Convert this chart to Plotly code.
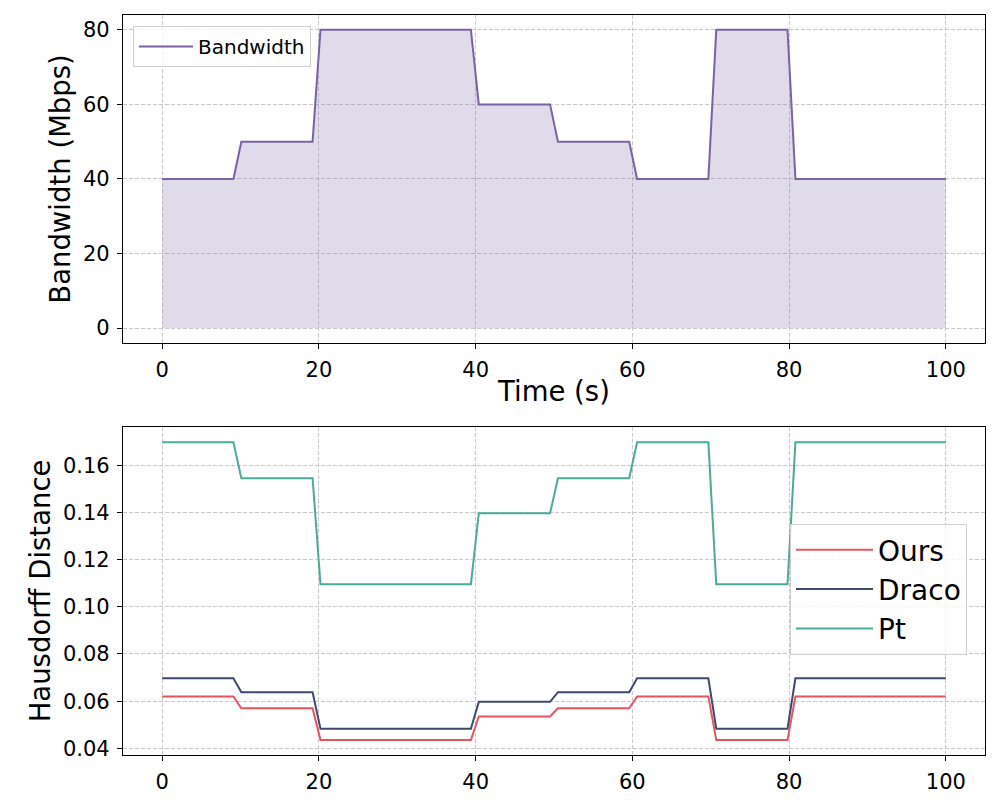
import numpy as np
import plotly.graph_objects as go
from plotly.subplots import make_subplots

# sample times (100 samples over 0-100 s)
time_s = np.linspace(0, 100, 100)

# bandwidth trace (Mbps)
bandwidth = [40] * 10 + [50] * 10 + [80] * 20 + [60] * 10 + [50] * 10 + [40] * 10 + [80] * 10 + [40] * 20

# hausdorff distance per method
ours = [0.062] * 10 + [0.057] * 10 + [0.0435] * 20 + [0.0535] * 10 + [0.057] * 10 + [0.062] * 10 + [0.0435] * 10 + [0.062] * 20
draco = [0.0697] * 10 + [0.0638] * 10 + [0.0483] * 20 + [0.0597] * 10 + [0.0638] * 10 + [0.0697] * 10 + [0.0483] * 10 + [0.0697] * 20
pt = [0.1697] * 10 + [0.1545] * 10 + [0.1095] * 20 + [0.1396] * 10 + [0.1545] * 10 + [0.1697] * 10 + [0.1095] * 10 + [0.1697] * 20

FONT = "DejaVu Sans"

fig = make_subplots(rows=2, cols=1)

# shaded area under the bandwidth curve (no legend entry)
fig.add_trace(go.Scatter(
    x=time_s, y=bandwidth, mode="lines", line=dict(width=0),
    fill="tozeroy", fillcolor="rgba(122,98,163,0.23)",
    showlegend=False, hoverinfo="skip",
), row=1, col=1)

fig.add_trace(go.Scatter(
    x=time_s, y=bandwidth, mode="lines", name="Bandwidth",
    line=dict(color="#7a62a3", width=2),
    showlegend=True, legend="legend",
), row=1, col=1)

for name, vals, col in [("Ours", ours, "#e8535e"), ("Draco", draco, "#3d4a6b"), ("Pt", pt, "#48ab9b")]:
    fig.add_trace(go.Scatter(
        x=time_s, y=vals, mode="lines", name=name,
        line=dict(color=col, width=2),
        legend="legend2",
    ), row=2, col=1)

axis_style = dict(
    showline=True, mirror=True, linecolor="black", linewidth=1.3,
    ticks="outside", ticklen=5, tickwidth=1.3, tickcolor="black",
    showgrid=True, gridcolor="#c9c9c9", griddash="4px,2px", gridwidth=1,
    zeroline=False, automargin=False, ticklabelstandoff=3,
    tickfont=dict(family=FONT, size=21, color="black"),
)

fig.update_xaxes(**axis_style)
fig.update_yaxes(**axis_style)

fig.update_layout(
    width=1000, height=800,
    margin=dict(l=0, r=0, t=0, b=0),
    plot_bgcolor="white", paper_bgcolor="white",
    font=dict(family=FONT, color="black"),
    xaxis=dict(domain=[0.115, 0.977], range=[-5, 105], tickvals=[0, 20, 40, 60, 80, 100],
               title=dict(text="Time (s)", font=dict(size=27.5), standoff=0)),
    yaxis=dict(domain=[0.5813, 0.9913], range=[-4, 84], tickvals=[0, 20, 40, 60, 80],
               title=dict(text="Bandwidth (Mbps)", font=dict(size=27.5), standoff=4)),
    xaxis2=dict(domain=[0.115, 0.977], range=[-5, 105], tickvals=[0, 20, 40, 60, 80, 100]),
    yaxis2=dict(domain=[0.0663, 0.4763], range=[0.0372, 0.1762],
                tickvals=[0.04, 0.06, 0.08, 0.10, 0.12, 0.14, 0.16], tickformat=".2f",
                title=dict(text="Hausdorff Distance", font=dict(size=27.5), standoff=4)),
    legend=dict(x=0.125, y=0.9775, xanchor="left", yanchor="top",
                bgcolor="rgba(255,255,255,0.8)", bordercolor="#d0d0d0", borderwidth=1,
                itemwidth=54, font=dict(size=20)),
    legend2=dict(x=0.782, y=0.355, xanchor="left", yanchor="top",
                 bgcolor="rgba(255,255,255,0.8)", bordercolor="#d0d0d0", borderwidth=1,
                 itemwidth=77, font=dict(size=28)),
)

fig.write_html("out.html")
